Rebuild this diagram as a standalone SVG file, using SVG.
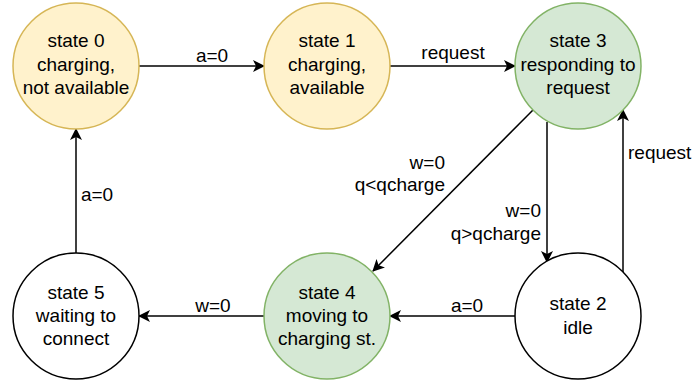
<svg xmlns="http://www.w3.org/2000/svg" width="692" height="385" viewBox="0 0 692 385">
<style>
text{font-family:"Liberation Sans",Arial,sans-serif;font-size:19px;fill:#000}
.n{text-anchor:middle}
.c{stroke-width:1.5}
.yel{fill:#fff2cc;stroke:#d6b656}
.grn{fill:#d5e8d4;stroke:#82b366}
.wht{fill:#ffffff;stroke:#000000}
.e{stroke:#000;stroke-width:1.5;fill:none;marker-end:url(#ah)}
</style>
<defs>
<marker id="ah" markerWidth="12" markerHeight="12" viewBox="0 0 12 12" refX="11" refY="6" orient="auto" markerUnits="userSpaceOnUse">
<path d="M0,0 L12,6 L0,12 L3,6 Z" fill="#000"/>
</marker>
</defs>
<rect width="692" height="385" fill="#fff"/>
<g id="connectors">
<line class="e" x1="139" y1="66" x2="264" y2="66"/>
<line class="e" x1="390" y1="66" x2="515" y2="66"/>
<line class="e" x1="533" y1="110" x2="373" y2="271"/>
<line class="e" x1="547" y1="122" x2="547" y2="262"/>
<line class="e" x1="623" y1="272" x2="623" y2="110"/>
<line class="e" x1="515" y1="316" x2="390" y2="316"/>
<line class="e" x1="264" y1="316" x2="139" y2="316"/>
<line class="e" x1="76" y1="253" x2="76" y2="129"/>
<text class="n" x="212" y="62">a=0</text>
<text class="n" x="453" y="59">request</text>
<text x="445" y="169" text-anchor="end">w=0</text>
<text x="445" y="191" text-anchor="end">q&lt;qcharge</text>
<text x="541" y="217" text-anchor="end">w=0</text>
<text x="541" y="240" text-anchor="end">q&gt;qcharge</text>
<text x="628" y="159">request</text>
<text class="n" x="467" y="312">a=0</text>
<text class="n" x="213" y="312">w=0</text>
<text class="n" x="97" y="201">a=0</text>
</g>
<g id="state0">
<circle class="yel c" cx="76" cy="66" r="63"/>
<text class="n" x="76" y="47">state 0</text>
<text class="n" x="76" y="70.5">charging,</text>
<text class="n" x="76" y="94">not available</text>
</g>
<g id="state1">
<circle class="yel c" cx="327" cy="66" r="63"/>
<text class="n" x="327" y="47">state 1</text>
<text class="n" x="327" y="70.5">charging,</text>
<text class="n" x="327" y="94">available</text>
</g>
<g id="state3">
<circle class="grn c" cx="578" cy="66" r="63"/>
<text class="n" x="578" y="47">state 3</text>
<text class="n" x="578" y="70.5">responding to</text>
<text class="n" x="578" y="94">request</text>
</g>
<g id="state5">
<circle class="wht c" cx="76" cy="316" r="63"/>
<text class="n" x="76" y="299">state 5</text>
<text class="n" x="76" y="322">waiting to</text>
<text class="n" x="76" y="345">connect</text>
</g>
<g id="state4">
<circle class="grn c" cx="327" cy="316" r="63"/>
<text class="n" x="327" y="299">state 4</text>
<text class="n" x="327" y="322">moving to</text>
<text class="n" x="327" y="345">charging st.</text>
</g>
<g id="state2">
<circle class="wht c" cx="578" cy="316" r="63"/>
<text class="n" x="578" y="310">state 2</text>
<text class="n" x="578" y="334">idle</text>
</g>
</svg>
